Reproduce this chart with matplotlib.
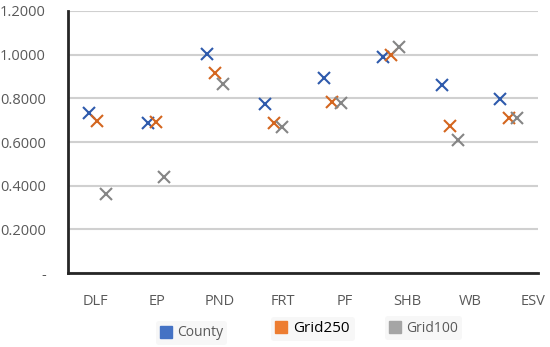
import matplotlib
matplotlib.use("Agg")
import matplotlib.pyplot as plt
from matplotlib.lines import Line2D
import numpy as np

categories = ["DLF", "EP", "PND", "FRT", "PF", "SHB", "WB", "ESV"]
county  = [0.735, 0.687, 1.003, 0.774, 0.893, 0.990, 0.861, 0.797]
grid250 = [0.695, 0.690, 0.916, 0.687, 0.783, 0.998, 0.673, 0.710]
grid100 = [0.360, 0.440, 0.866, 0.669, 0.779, 1.035, 0.609, 0.712]
series_names = ["County", "Grid250", "Grid100"]
yticks = [0.0, 0.2, 0.4, 0.6, 0.8, 1.0, 1.2]
ytick_labels = ["-", "0.2000", "0.4000", "0.6000", "0.8000", "1.0000", "1.2000"]

colors = ["#2E5AAC", "#D4661F", "#858585"]
legend_colors = ["#4472C4", "#ED7D31", "#A5A5A5"]

plt.rcParams['font.family'] = ['Open Sans', 'DejaVu Sans']

fig = plt.figure(figsize=(5.5, 3.47), dpi=100)
ax = fig.add_axes([68/550, 1 - 273/347, (538-68)/550, (273-11)/347])

x = np.arange(len(categories))
offs = [-0.14, 0.0, 0.14]
for s, (vals, c, o) in enumerate(zip([county, grid250, grid100], colors, offs)):
    ax.plot(x + o, vals, linestyle="none", marker="x", markersize=9,
            markeredgewidth=1.5, color=c, zorder=3)

ax.set_xlim(-0.5, len(categories) - 0.5)
ax.set_ylim(0, 1.2)
ax.set_yticks(yticks)
ax.set_yticklabels(ytick_labels)
ax.yaxis.grid(True, color="#D0D0D0", linewidth=1.5)
ax.set_axisbelow(True)
ax.tick_params(axis="y", length=0, pad=16, labelsize=10.5, labelcolor="#595959")
ax.tick_params(axis="x", length=0, pad=15, labelsize=10.5, labelcolor="#595959")
# category labels drift slightly right in the original
ax.set_xticks(x * 1.064 - 0.04)
ax.set_xticklabels(categories)

for side in ["top", "right"]:
    ax.spines[side].set_visible(False)
for side in ["left", "bottom"]:
    ax.spines[side].set_color("#262626")
    ax.spines[side].set_linewidth(2)

# legend entries placed separately, as in the original
legend_pos = [(149/550, 1 - 333/347), (263/550, 1 - 329/347), (378/550, 1 - 328/347)]
text_colors = ["#595959", "#000000", "#595959"]
text_sizes = [10, 11, 10]
for name, lc, pos, tc, ts in zip(series_names, legend_colors, legend_pos, text_colors, text_sizes):
    h = Line2D([], [], linestyle="none", marker="s", markersize=8, color=lc)
    leg = fig.legend([h], [name], loc="center left", bbox_to_anchor=pos,
                     frameon=True, fontsize=ts, handlelength=0.8, handletextpad=0.4,
                     borderpad=0.3, facecolor="#F7F7F7", edgecolor="none", framealpha=1)
    for t in leg.get_texts():
        t.set_color(tc)

fig.savefig("out.png", dpi=100)
